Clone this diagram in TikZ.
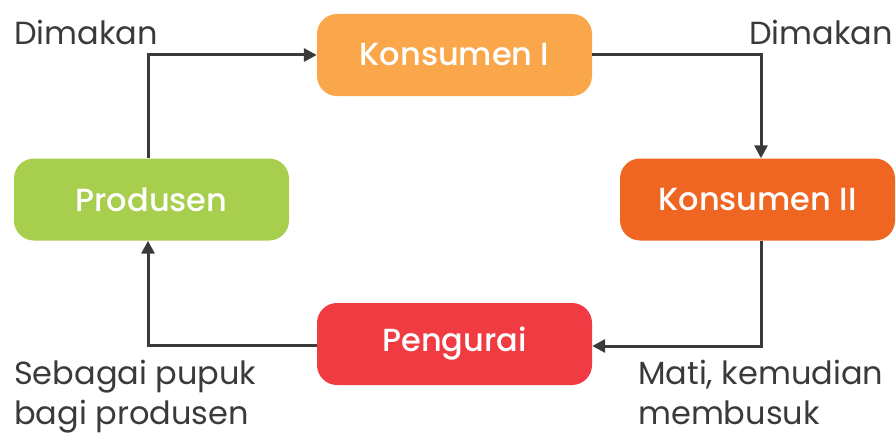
\documentclass[tikz,border=0pt]{standalone}
\usepackage{fontspec}
\setmainfont{Poppins}[BoldFont={Poppins Medium}]
\usetikzlibrary{arrows.meta}
\definecolor{konA}{HTML}{F9A74A}
\definecolor{konB}{HTML}{EF6623}
\definecolor{prodc}{HTML}{A7CE4C}
\definecolor{pengc}{HTML}{EF3B41}
\definecolor{ink}{HTML}{3A3A3A}
\begin{document}
\begin{tikzpicture}[x=1pt,y=-1pt,
  box/.style={rounded corners=20pt, minimum width=275pt, minimum height=82pt, text=white,
    font=\fontsize{32}{38}\selectfont\bfseries, inner sep=0pt},
  lbl/.style={anchor=base west, text=ink, font=\fontsize{32}{40}\selectfont, inner sep=0pt},
  link/.style={draw=ink, line width=3pt, -{Triangle[length=13pt,width=13pt]}}]
\useasboundingbox (0,0) rectangle (896,436);
\node[box, fill=konA] (k1) at (454.5,55) {Konsumen I};
\node[box, fill=konB] (k2) at (757.5,199.5) {Konsumen II};
\node[box, fill=prodc] (prod) at (151.5,199.5) {Produsen};
\node[box, fill=pengc] (peng) at (454.5,344) {Pengurai};
\draw[link] ([xshift=-3.5pt]prod.north) |- (k1.west);
\draw[link] (k1.east) -| ([xshift=3.5pt]k2.north);
\draw[link] ([xshift=3.5pt]k2.south) |- ([yshift=-2pt]peng.east);
\draw[link] ([yshift=-1pt]peng.west) -| ([xshift=-3.5pt]prod.south);
\node[lbl] (d1) at (14,45) {Dimakan};
\node[lbl, anchor=base east] (d2) at (893,45) {Dimakan};
\node[lbl] (s1) at (14,384) {Sebagai pupuk};
\node[lbl] (s2) at (14,424) {bagi produsen};
\node[lbl] (m1) at (638,384) {Mati, kemudian};
\node[lbl] (m2) at (638,424) {membusuk};
\end{tikzpicture}
\end{document}
